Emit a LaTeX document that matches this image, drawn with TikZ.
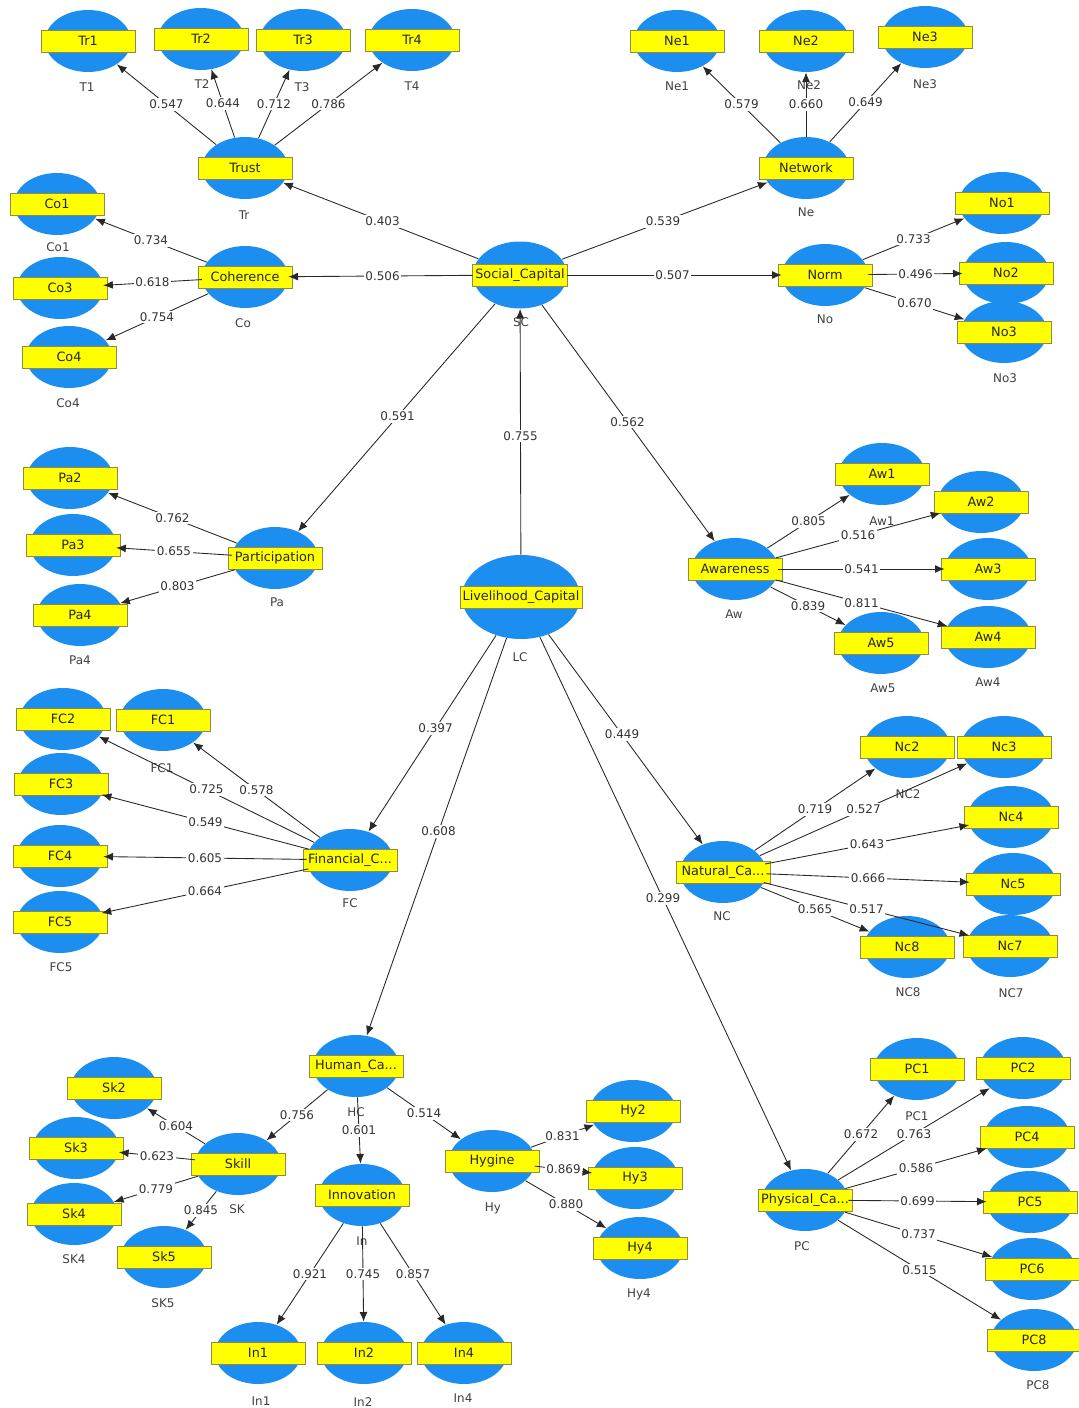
\documentclass[tikz,border=0pt]{standalone}
\usepackage{fontspec}
\usetikzlibrary{shapes.geometric,arrows.meta,calc}
\newfontfamily\plsfont{DejaVu Sans}
\definecolor{plsblue}{RGB}{28,142,240}
\definecolor{plsyellow}{RGB}{255,255,0}
\definecolor{plsedge}{RGB}{40,40,40}
\tikzset{
  lv/.style={ellipse, fill=plsblue, minimum width=1.72cm, minimum height=1.24cm, inner sep=0pt},
  lvmid/.style={lv, minimum width=1.88cm, minimum height=1.34cm},
  lvbig/.style={lv, minimum width=2.36cm, minimum height=1.68cm},
  bar/.style={rectangle, fill=plsyellow, draw=yellow!50!black, line width=0.3pt,
    minimum width=1.88cm, minimum height=0.44cm, inner xsep=1.5pt, inner ysep=0pt,
    font=\plsfont\fontsize{7.3}{8}\selectfont, text=black!85},
  sub/.style={inner sep=0pt, font=\plsfont\fontsize{6.8}{8}\selectfont, text=black!75},
  wt/.style={fill=white, inner sep=1pt, font=\plsfont\fontsize{6.8}{8}\selectfont, text=black!80},
  arr/.style={-{Latex[length=5.5pt,width=4.5pt]}, line width=0.5pt, draw=plsedge}
}
% ellipse with its yellow name bar
\newcommand\lvar[4][lv]{%
  \node[#1] (#2) at (#3) {};
  \node[bar] (#2-bar) at (#3) {#4};}
% loading arrow with its value halfway
\newcommand\loading[3]{%
  \draw[arr] (#1) -- (#2);
  \node[wt] (#1-#2-w) at ($(#1)!.5!(#2)$) {#3};}
\begin{document}
\begin{tikzpicture}[x=0.02cm, y=-0.02cm]
  \useasboundingbox (0,0) rectangle (1078,1408);

  % constructs
  \lvar{Trust}{245,168}{Trust}
  \lvar{Coherence}{245,277}{Coherence}
  \lvar{Network}{806,168}{Network}
  \lvar{Norm}{825,275}{Norm}
  \lvar[lvmid]{SC}{520,275}{Social\_Capital}
  \lvar{Part}{275,558}{Participation}
  \lvar{Aware}{735,569}{Awareness}
  \lvar[lvbig]{LC}{521,597}{Livelihood\_Capital}
  \lvar{Fin}{350,860}{Financial\_C...}
  \lvar{Nat}{723,872}{Natural\_Ca...}
  \lvar{Hum}{356,1066}{Human\_Ca...}
  \lvar{Skill}{238,1164}{Skill}
  \lvar{Innov}{362,1195}{Innovation}
  \lvar{Hyg}{492,1161}{Hygine}
  \lvar{Phys}{805,1200}{Physical\_Ca...}

  % indicators
  \lvar{Tr1}{88,41}{Tr1}
  \lvar{Tr2}{201,39}{Tr2}
  \lvar{Tr3}{303,40}{Tr3}
  \lvar{Tr4}{412,40}{Tr4}
  \lvar{Ne1}{677,41}{Ne1}
  \lvar{Ne2}{806,41}{Ne2}
  \lvar{Ne3}{925,37}{Ne3}
  \lvar{Co1}{57,204}{Co1}
  \lvar{Co3}{60,288}{Co3}
  \lvar{Co4}{69,357}{Co4}
  \lvar{No1}{1002,203}{No1}
  \lvar{No2}{1006,273}{No2}
  \lvar{No3}{1004,332}{No3}
  \lvar{Pa2}{70,478}{Pa2}
  \lvar{Pa3}{73,545}{Pa3}
  \lvar{Pa4}{80,615}{Pa4}
  \lvar{Aw1}{882,474}{Aw1}
  \lvar{Aw2}{981,502}{Aw2}
  \lvar{Aw3}{988,569}{Aw3}
  \lvar{Aw4}{988,637}{Aw4}
  \lvar{Aw5}{881,643}{Aw5}
  \lvar{FC2}{63,719}{FC2}
  \lvar{FC1}{163,720}{FC1}
  \lvar{FC3}{61,784}{FC3}
  \lvar{FC4}{60,856}{FC4}
  \lvar{FC5}{60,922}{FC5}
  \lvar{Nc2}{907,747}{Nc2}
  \lvar{Nc3}{1004,747}{Nc3}
  \lvar{Nc4}{1011,817}{Nc4}
  \lvar{Nc5}{1013,884}{Nc5}
  \lvar{Nc7}{1010,946}{Nc7}
  \lvar{Nc8}{907,947}{Nc8}
  \lvar{Sk2}{114,1088}{Sk2}
  \lvar{Sk3}{76,1148}{Sk3}
  \lvar{Sk4}{74,1214}{Sk4}
  \lvar{Sk5}{164,1257}{Sk5}
  \lvar{In1}{258,1353}{In1}
  \lvar{In2}{364,1353}{In2}
  \lvar{In4}{464,1353}{In4}
  \lvar{Hy2}{633,1111}{Hy2}
  \lvar{Hy3}{635,1178}{Hy3}
  \lvar{Hy4}{640,1248}{Hy4}
  \lvar{PC1}{917,1069}{PC1}
  \lvar{PC2}{1023,1068}{PC2}
  \lvar{PC4}{1027,1137}{PC4}
  \lvar{PC5}{1030,1202}{PC5}
  \lvar{PC6}{1032,1269}{PC6}
  \lvar{PC8}{1034,1340}{PC8}

  % short names under the ellipses
  \node[sub] (T1s) at (87,87) {T1};
  \node[sub] (T2s) at (202,84) {T2};
  \node[sub] (T3s) at (302,87) {T3};
  \node[sub] (T4s) at (412,86) {T4};
  \node[sub] (Trs) at (244,215) {Tr};
  \node[sub] (Ne1s) at (677,86) {Ne1};
  \node[sub] (Ne2s) at (809,85) {Ne2};
  \node[sub] (Ne3s) at (925,84) {Ne3};
  \node[sub] (Nes) at (806,212) {Ne};
  \node[sub] (Co1s) at (58,247) {Co1};
  \node[sub] (Cos) at (243,323) {Co};
  \node[sub] (Nos) at (825,319) {No};
  \node[sub] (No3s) at (1005,378) {No3};
  \node[sub] (SCs) at (521,322) {SC};
  \node[sub] (Co4s) at (68,403) {Co4};
  \node[sub] (Pas) at (277,602) {Pa};
  \node[sub] (Pa4s) at (80,660) {Pa4};
  \node[sub] (Aw1s) at (882,521) {Aw1};
  \node[sub] (Aws) at (734,614) {Aw};
  \node[sub] (Aw5s) at (883,688) {Aw5};
  \node[sub] (Aw4s) at (988,682) {Aw4};
  \node[sub] (LCs) at (520,657) {LC};
  \node[sub] (FC1s) at (162,768) {FC1};
  \node[sub] (FCs) at (350,903) {FC};
  \node[sub] (FC5s) at (61,967) {FC5};
  \node[sub] (NC2s) at (908,794) {NC2};
  \node[sub] (NCs) at (722,916) {NC};
  \node[sub] (NC8s) at (908,992) {NC8};
  \node[sub] (NC7s) at (1011,993) {NC7};
  \node[sub] (HCs) at (356,1112) {HC};
  \node[sub] (SKs) at (237,1209) {SK};
  \node[sub] (SK4s) at (74,1259) {SK4};
  \node[sub] (SK5s) at (163,1303) {SK5};
  \node[sub] (Ins) at (362,1241) {In};
  \node[sub] (Hys) at (493,1208) {Hy};
  \node[sub] (Hy4s) at (639,1294) {Hy4};
  \node[sub] (In1s) at (261,1401) {In1};
  \node[sub] (In2s) at (363,1402) {In2};
  \node[sub] (In4s) at (463,1398) {In4};
  \node[sub] (PC1s) at (917,1116) {PC1};
  \node[sub] (PCs) at (802,1246) {PC};
  \node[sub] (PC8s) at (1038,1385) {PC8};

  % structural paths
  \loading{LC}{SC}{0.755}
  \loading{SC}{Trust}{0.403}
  \loading{SC}{Coherence}{0.506}
  \loading{SC}{Network}{0.539}
  \loading{SC}{Norm}{0.507}
  \loading{SC}{Part}{0.591}
  \loading{SC}{Aware}{0.562}
  \loading{LC}{Fin}{0.397}
  \loading{LC}{Nat}{0.449}
  \loading{LC}{Hum}{0.608}
  \loading{LC}{Phys}{0.299}
  \loading{Hum}{Skill}{0.756}
  \loading{Hum}{Innov}{0.601}
  \loading{Hum}{Hyg}{0.514}

  % outer loadings
  \loading{Trust}{Tr1}{0.547}
  \loading{Trust}{Tr2}{0.644}
  \loading{Trust}{Tr3}{0.712}
  \loading{Trust}{Tr4}{0.786}
  \loading{Network}{Ne1}{0.579}
  \loading{Network}{Ne2}{0.660}
  \loading{Network}{Ne3}{0.649}
  \loading{Coherence}{Co1}{0.734}
  \loading{Coherence}{Co3}{0.618}
  \loading{Coherence}{Co4}{0.754}
  \loading{Norm}{No1}{0.733}
  \loading{Norm}{No2}{0.496}
  \loading{Norm}{No3}{0.670}
  \loading{Part}{Pa2}{0.762}
  \loading{Part}{Pa3}{0.655}
  \loading{Part}{Pa4}{0.803}
  \loading{Aware}{Aw1}{0.805}
  \loading{Aware}{Aw2}{0.516}
  \loading{Aware}{Aw3}{0.541}
  \loading{Aware}{Aw4}{0.811}
  \loading{Aware}{Aw5}{0.839}
  \loading{Fin}{FC1}{0.578}
  \loading{Fin}{FC2}{0.725}
  \loading{Fin}{FC3}{0.549}
  \loading{Fin}{FC4}{0.605}
  \loading{Fin}{FC5}{0.664}
  \loading{Nat}{Nc2}{0.719}
  \loading{Nat}{Nc3}{0.527}
  \loading{Nat}{Nc4}{0.643}
  \loading{Nat}{Nc5}{0.666}
  \loading{Nat}{Nc7}{0.517}
  \loading{Nat}{Nc8}{0.565}
  \loading{Skill}{Sk2}{0.604}
  \loading{Skill}{Sk3}{0.623}
  \loading{Skill}{Sk4}{0.779}
  \loading{Skill}{Sk5}{0.845}
  \loading{Innov}{In1}{0.921}
  \loading{Innov}{In2}{0.745}
  \loading{Innov}{In4}{0.857}
  \loading{Hyg}{Hy2}{0.831}
  \loading{Hyg}{Hy3}{0.869}
  \loading{Hyg}{Hy4}{0.880}
  \loading{Phys}{PC1}{0.672}
  \loading{Phys}{PC2}{0.763}
  \loading{Phys}{PC4}{0.586}
  \loading{Phys}{PC5}{0.699}
  \loading{Phys}{PC6}{0.737}
  \loading{Phys}{PC8}{0.515}
\end{tikzpicture}
\end{document}
